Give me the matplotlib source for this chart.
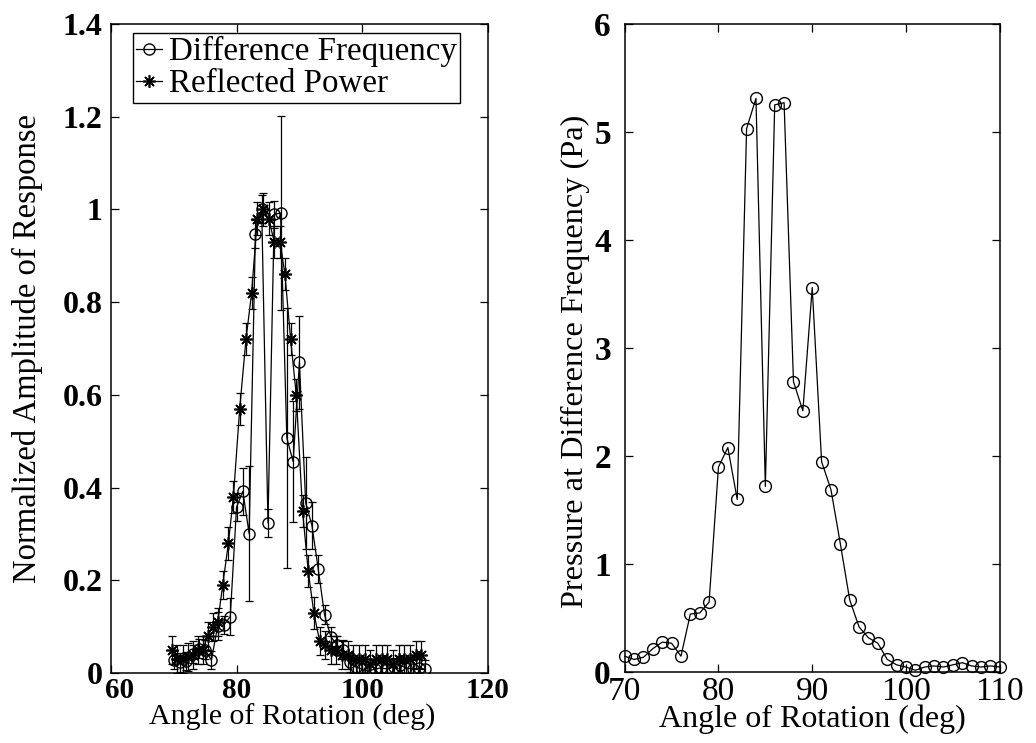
import matplotlib
matplotlib.use("Agg")
import matplotlib.pyplot as plt
from matplotlib.transforms import ScaledTranslation

# === DATA ===
angle = list(range(70, 111))

# right panel: pressure at difference frequency (Pa)
pressure = [0.15, 0.12, 0.14, 0.22, 0.28, 0.27, 0.15, 0.54, 0.55, 0.65,
            1.90, 2.08, 1.60, 5.03, 5.31, 1.72, 5.25, 5.27, 2.69, 2.42,
            3.56, 1.95, 1.69, 1.19, 0.67, 0.42, 0.32, 0.27, 0.12, 0.07,
            0.05, 0.02, 0.05, 0.06, 0.05, 0.07, 0.09, 0.06, 0.05, 0.06, 0.05]

# left panel: normalized difference frequency response
diff_freq = [0.028, 0.023, 0.026, 0.041, 0.053, 0.051, 0.028, 0.102, 0.104, 0.122,
             0.358, 0.392, 0.301, 0.947, 1.000, 0.324, 0.989, 0.992, 0.507, 0.456,
             0.670, 0.367, 0.318, 0.224, 0.126, 0.079, 0.060, 0.051, 0.023, 0.013,
             0.009, 0.004, 0.009, 0.011, 0.009, 0.013, 0.017, 0.011, 0.009, 0.011, 0.009]
diff_err = [0.02, 0.02, 0.02, 0.02, 0.02, 0.02, 0.02, 0.03, 0.02, 0.04,
            0.03, 0.05, 0.145, 0.03, 0.03, 0.03, 0.03, 0.21, 0.28, 0.13,
            0.10, 0.10, 0.05, 0.03, 0.02, 0.02, 0.02, 0.02, 0.02, 0.02,
            0.02, 0.02, 0.02, 0.02, 0.02, 0.02, 0.02, 0.02, 0.02, 0.02, 0.02]

# left panel: normalized reflected power
refl_angle = [69.8, 70.6, 71.4, 72.2, 73.0, 73.8, 74.6, 75.4, 76.2, 77.0,
              77.8, 78.7, 79.5, 80.5, 81.5, 82.4, 83.3, 84.2, 85.1, 86.0,
              86.9, 87.7, 88.6, 89.5, 90.5, 91.4, 92.3, 93.2, 94.1, 95.0,
              95.9, 96.8, 97.7, 98.6, 99.5, 100.4, 101.3, 102.2, 103.1, 104.0,
              104.9, 105.8, 106.7, 107.6, 108.5, 109.4]
refl_power = [0.05, 0.03, 0.03, 0.035, 0.04, 0.05, 0.05, 0.08, 0.10, 0.11,
              0.19, 0.28, 0.38, 0.57, 0.72, 0.82, 0.98, 1.00, 0.98, 0.93,
              0.93, 0.86, 0.72, 0.60, 0.35, 0.22, 0.13, 0.07, 0.06, 0.05,
              0.05, 0.04, 0.04, 0.03, 0.03, 0.03, 0.02, 0.03, 0.03, 0.03,
              0.02, 0.03, 0.03, 0.03, 0.04, 0.04]
refl_err = [0.03, 0.03, 0.03, 0.03, 0.03, 0.03, 0.03, 0.03, 0.03, 0.03,
            0.03, 0.035, 0.035, 0.035, 0.035, 0.035, 0.035, 0.035, 0.035, 0.035,
            0.035, 0.035, 0.035, 0.035, 0.035, 0.035, 0.035, 0.03, 0.03, 0.03,
            0.03, 0.03, 0.03, 0.03, 0.03, 0.03, 0.03, 0.03, 0.03, 0.03,
            0.03, 0.03, 0.03, 0.03, 0.03, 0.03]

plt.rcParams['font.family'] = ['Liberation Serif', 'DejaVu Serif']

fig = plt.figure(figsize=(10.36, 7.43), dpi=100)
ax1 = fig.add_axes([0.107, 0.094, 0.364, 0.874])
ax2 = fig.add_axes([0.603, 0.095, 0.362, 0.873])

lw = 0.9
asterisk = (8, 2, 0)

# --- left panel ---
ax1.errorbar(angle, diff_freq, yerr=diff_err, fmt='none', ecolor='black',
             elinewidth=lw, capsize=3, capthick=lw)
ax1.errorbar(refl_angle, refl_power, yerr=refl_err, fmt='none', ecolor='black',
             elinewidth=lw, capsize=3, capthick=lw)
ax1.plot(angle, diff_freq, '-', marker='o', color='black', lw=lw, ms=8,
         mfc='none', mew=1.0, label='Difference Frequency')
ax1.plot(refl_angle, refl_power, '-', marker=asterisk, color='black', lw=lw,
         ms=9, mew=1.2, label='Reflected Power')

ax1.set_xlim(60, 120)
ax1.set_ylim(0, 1.4)
ax1.set_xticks([60, 80, 100, 120])
ax1.set_yticks([0, 0.2, 0.4, 0.6, 0.8, 1, 1.2, 1.4])
ax1.set_yticklabels(['0', '0.2', '0.4', '0.6', '0.8', '1', '1.2', '1.4'])
ax1.set_xlabel('Angle of Rotation (deg)', fontsize=21.5)
ax1.set_ylabel('Normalized Amplitude of Response', fontsize=23.5)
ax1.xaxis.set_label_coords(0.48, -0.047)
ax1.yaxis.set_label_coords(-0.18, 0.5)

leg = ax1.legend(loc='upper left', bbox_to_anchor=(0.058, 0.986), fontsize=23.8,
                 handlelength=0.8, handletextpad=0.2, borderpad=0.1,
                 labelspacing=0.05, borderaxespad=0.0, fancybox=False,
                 framealpha=1, edgecolor='black')
leg.get_frame().set_linewidth(1.0)

# --- right panel ---
ax2.plot(angle, pressure, '-o', color='black', lw=lw, ms=8.5,
         mfc='none', mew=1.0, clip_on=False)
ax2.set_xlim(70, 110)
ax2.set_ylim(0, 6)
ax2.set_xticks([70, 80, 90, 100, 110])
ax2.set_yticks([0, 1, 2, 3, 4, 5, 6])
ax2.set_xlabel('Angle of Rotation (deg)', fontsize=23)
ax2.set_ylabel('Pressure at Difference Frequency (Pa)', fontsize=23.3)
ax2.xaxis.set_label_coords(0.5, -0.05)
ax2.yaxis.set_label_coords(-0.092, 0.48)

for ax in (ax1, ax2):
    ax.tick_params(direction='in', top=True, right=True, length=6,
                   width=0.9, pad=6)
    for s in ax.spines.values():
        s.set_linewidth(1.1)

ax1.tick_params(axis='x', labelsize=21, pad=3)
ax1.tick_params(axis='y', labelsize=23)
ax2.tick_params(axis='x', labelsize=24, pad=3)
ax2.tick_params(axis='y', labelsize=24, pad=10)
for t in ax1.get_xticklabels() + ax1.get_yticklabels() + ax2.get_yticklabels():
    t.set_fontweight('bold')

# the "60" sits a little right of its tick, clear of the y-axis "0"
first = ax1.get_xticklabels()[0]
first.set_transform(first.get_transform() +
                    ScaledTranslation(9 / 100, 0, fig.dpi_scale_trans))

fig.savefig('out.png', dpi=100)
